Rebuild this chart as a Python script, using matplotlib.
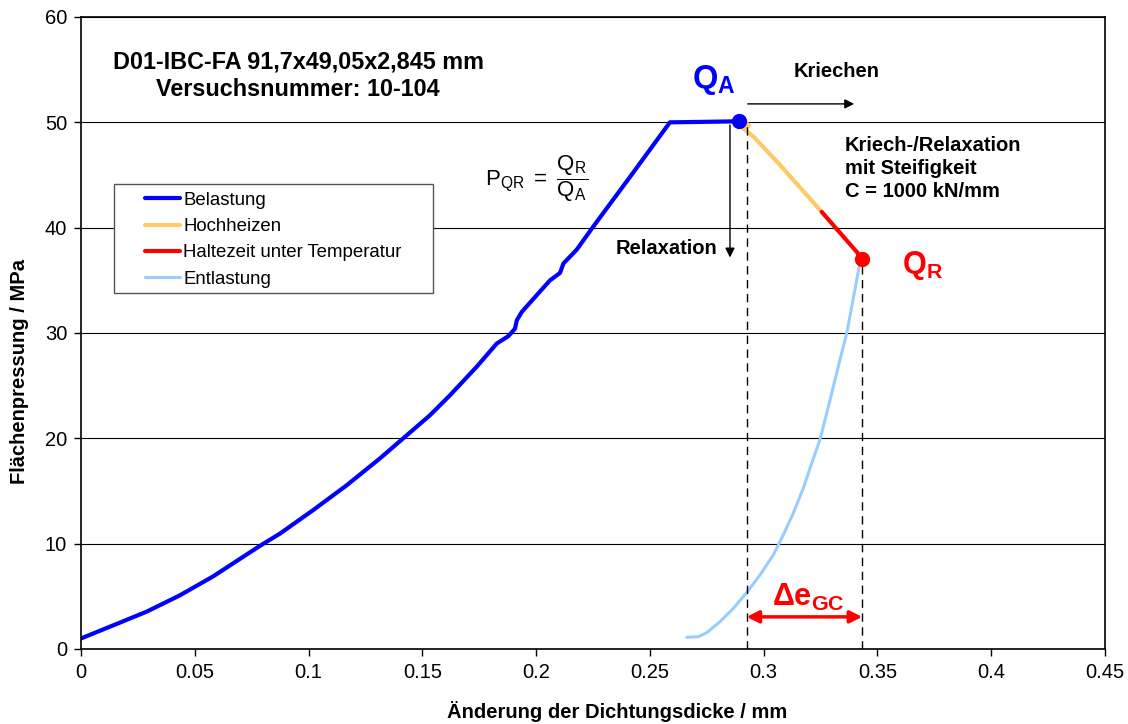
import matplotlib
matplotlib.use('Agg')
from matplotlib import pyplot as plt
from matplotlib.patches import Rectangle

plt.rcParams['font.family'] = ['Liberation Sans', 'DejaVu Sans']
plt.rcParams['mathtext.fontset'] = 'custom'
plt.rcParams['mathtext.rm'] = 'Liberation Sans'
plt.rcParams['mathtext.it'] = 'Liberation Sans:italic'
plt.rcParams['mathtext.bf'] = 'Liberation Sans:bold'

# Belastung (loading)
load_x = [0.0, 0.0142, 0.0289, 0.0435, 0.0581, 0.0787, 0.0874, 0.1021, 0.1168, 0.1314,
          0.1416, 0.1534, 0.1622, 0.1739, 0.1827, 0.1878, 0.1907, 0.1915, 0.1937, 0.2003,
          0.2061, 0.2105, 0.2120, 0.2178, 0.2251, 0.2412, 0.2588, 0.275, 0.2893]
load_y = [1.0, 2.25, 3.55, 5.1, 6.9, 9.8, 10.95, 13.2, 15.55, 18.1,
          20.0, 22.2, 24.1, 26.8, 29.0, 29.7, 30.4, 31.2, 32.0, 33.6,
          35.0, 35.7, 36.6, 37.9, 40.1, 44.8, 50.0, 50.05, 50.1]
# Hochheizen (heating)
heat_x = [0.2893, 0.2925, 0.2935, 0.2905, 0.2935, 0.2955, 0.3072, 0.3255]
heat_y = [50.1, 49.9, 49.7, 49.5, 49.0, 48.65, 45.95, 41.5]
# Haltezeit unter Temperatur (hold time)
hold_x = [0.3255, 0.3409, 0.3431]
hold_y = [41.5, 37.7, 37.0]
# Entlastung (unloading)
unload_x = [0.2662, 0.2713, 0.2750, 0.2808, 0.2867, 0.2925, 0.2984, 0.3042, 0.3086, 0.3130,
            0.3174, 0.3211, 0.3247, 0.3277, 0.3306, 0.3335, 0.3365, 0.3387, 0.3406, 0.3425]
unload_y = [1.11, 1.17, 1.55, 2.59, 3.86, 5.35, 7.03, 8.92, 10.82, 12.88,
            15.26, 17.63, 19.84, 22.37, 24.9, 27.44, 29.97, 32.5, 34.7, 36.95]

q_a = (0.2893, 50.15)
q_r = (0.3431, 37.0)
e_start = 0.2925
e_end = 0.3433

fig = plt.figure(figsize=(11.28, 7.24), dpi=100)
ax = fig.add_axes([81 / 1128, 75 / 724, 1024 / 1128, 632 / 724])

ax.plot(load_x, load_y, color='#0000ff', lw=3, label='Belastung', solid_capstyle='round')
ax.plot(heat_x, heat_y, color='#ffc966', lw=3, label='Hochheizen', solid_capstyle='round')
ax.plot(hold_x, hold_y, color='#ff0000', lw=3, label='Haltezeit unter Temperatur', solid_capstyle='round')
ax.plot(unload_x, unload_y, color='#99ccff', lw=2.2, label='Entlastung', solid_capstyle='round')
ax.plot(*q_a, 'o', color='#0000ff', ms=10, zorder=5)
ax.plot(*q_r, 'o', color='#ff0000', ms=10, zorder=5)

ax.set_xlim(0, 0.45)
ax.set_ylim(0, 60)
ax.set_xticks([0, 0.05, 0.1, 0.15, 0.2, 0.25, 0.3, 0.35, 0.4, 0.45])
ax.set_xticklabels(['0', '0.05', '0.1', '0.15', '0.2', '0.25', '0.3', '0.35', '0.4', '0.45'])
ax.set_yticks(range(0, 61, 10))
ax.tick_params(labelsize=14.5, direction='out', length=5, width=1, pad=5)
ax.yaxis.grid(True, color='black', lw=0.8)
ax.set_axisbelow(True)
for s in ax.spines.values():
    s.set_linewidth(1.2)

ax.set_xlabel('Änderung der Dichtungsdicke / mm', fontsize=14.5, fontweight='bold')
ax.set_ylabel('Flächenpressung / MPa', fontsize=14.5, fontweight='bold')
ax.xaxis.set_label_coords(0.524, -0.083)
ax.yaxis.set_label_coords(-0.051, 0.439)

# legend box drawn separately so the paddings can be wider
ax.add_patch(Rectangle((0.0322, 0.5633), 0.3116, 0.1725, transform=ax.transAxes,
                       facecolor='white', edgecolor='#555555', lw=1, zorder=3))
leg = ax.legend(loc='upper left', bbox_to_anchor=(0.0625, 0.7235), borderaxespad=0,
                fontsize=13.4, frameon=False, handlelength=1.9,
                handletextpad=0.15, labelspacing=0.5, borderpad=0)
leg.set_zorder(4)

# texts
ax.text(0.0954, 55.75, 'D01-IBC-FA 91,7x49,05x2,845 mm', ha='center', va='center',
        fontsize=16.8, fontweight='bold')
ax.text(0.0954, 53.1, 'Versuchsnummer: 10-104', ha='center', va='center',
        fontsize=16.8, fontweight='bold')
ax.text(0.2, 44.7, r'$\mathrm{P}_{\mathrm{QR}}\ =\ \dfrac{\mathrm{Q}_{\mathrm{R}}}{\mathrm{Q}_{\mathrm{A}}}$',
        ha='center', va='center', fontsize=16)
ax.text(0.2782, 54.0, r'$\mathbf{Q}_{\mathbf{A}}$', ha='center', va='center',
        fontsize=23.5, color='#0000ff')
ax.text(0.3696, 36.4, r'$\mathbf{Q}_{\mathbf{R}}$', ha='center', va='center',
        fontsize=22, color='#ff0000')
ax.text(0.3322, 54.8, 'Kriechen', ha='center', va='center', fontsize=14.5, fontweight='bold')
ax.text(0.3357, 48.7, 'Kriech-/Relaxation\nmit Steifigkeit\nC = 1000 kN/mm', ha='left', va='top',
        fontsize=14.5, fontweight='bold', linespacing=1.27)
ax.text(0.2795, 38.0, 'Relaxation', ha='right', va='center', fontsize=14.5, fontweight='bold')
ax.text(0.3195, 4.9, r'$\mathbf{\Delta e}_{\mathbf{GC}}$', ha='center', va='center',
        fontsize=22, color='#ff0000')

# arrows
ax.annotate('', xy=(0.341, 51.75), xytext=(0.2918, 51.75),
            arrowprops=dict(arrowstyle='-|>', color='black', lw=1, mutation_scale=14))
ax.annotate('', xy=(0.2852, 36.9), xytext=(0.2852, 50.0),
            arrowprops=dict(arrowstyle='-|>', color='black', lw=1, mutation_scale=14))
ax.annotate('', xy=(e_end, 3.05), xytext=(e_start, 3.05),
            arrowprops=dict(arrowstyle='<|-|>', color='#ff0000', lw=2.5, mutation_scale=18,
                            shrinkA=0, shrinkB=0))

# dashed guides
ax.plot([e_start, e_start], [0, 50.0], color='black', lw=1, ls=(0, (6, 4)))
ax.plot([e_end, e_end], [0, q_r[1]], color='black', lw=1, ls=(0, (6, 4)))

fig.savefig('out.png', dpi=100)
